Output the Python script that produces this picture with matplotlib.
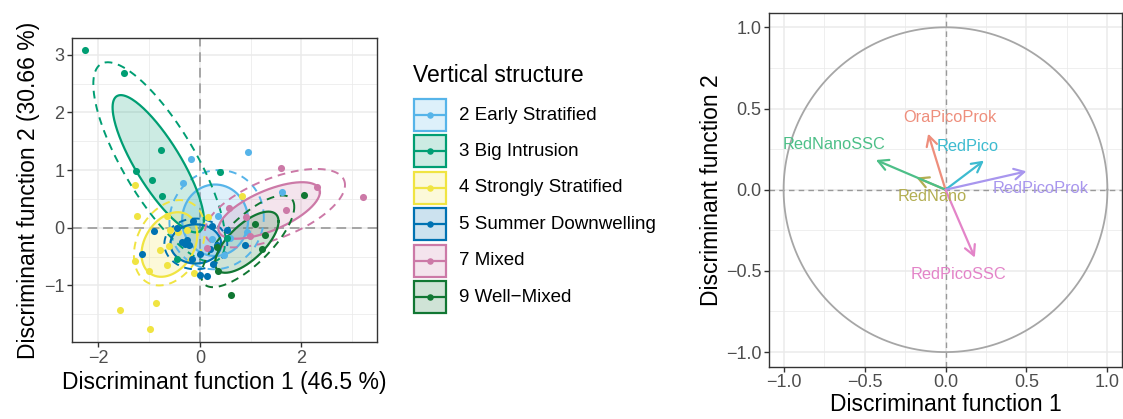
import numpy as np
import matplotlib
matplotlib.use("Agg")
import matplotlib.pyplot as plt
from matplotlib.patches import Rectangle
from matplotlib.lines import Line2D

plt.rcParams["font.family"] = ["Liberation Sans", "DejaVu Sans"]

# --- discriminant scores per vertical-structure group ---
groups = ["2 Early Stratified", "3 Big Intrusion", "4 Strongly Stratified",
          "5 Summer Downwelling", "7 Mixed", "9 Well\u2212Mixed"]
group_colors = ["#56B4E9", "#009E73", "#F0E442", "#0072B2", "#CC79A7", "#117733"]

early_x = [-0.17, 0.95, -0.33, 1.61, 0.36, 0.93, 0.23, 0.47, 0.59, 0.20]
early_y = [1.20, 1.31, 0.78, 0.62, 0.20, -0.07, -0.20, -0.47, -0.18, -0.36]

big_x = [-2.27, -1.50, -0.77, -1.26, -0.94, -0.74, 0.39, -0.46, 0.53]
big_y = [3.08, 2.69, 1.35, 0.98, 0.83, 0.545, 0.97, -0.54, -0.18]

strong_x = [-1.28, -1.24, -0.64, 0.16, 0.83, -0.59, -0.43, -0.26, -0.60,
            -0.79, -1.27, -0.64, -1.00, -0.11, -1.57, -0.87, -0.99]
strong_y = [0.74, 0.20, 0.20, 0.18, 0.55, -0.04, -0.07, -0.04, -0.31,
            -0.38, -0.57, -0.64, -0.75, -0.78, -1.42, -1.30, -1.75]

summer_x = [-0.90, -1.14, -0.13, 0.23, 0.53, 0.88, 0.01, -0.16, 0.00,
            0.15, 0.19, 0.26, -0.46, -0.30, -0.22, -0.26, 0.33, -0.36]
summer_y = [-0.05, -0.46, 0.12, 0.03, -0.04, -0.30, -0.46, -0.54, -0.82,
            -0.84, -0.36, -0.63, -0.01, -0.28, -0.30, -0.21, -0.29, -0.24]

mixed_x = [1.59, 2.30, 3.22, 1.69, 0.58, 0.90, 0.99, 0.15]
mixed_y = [1.04, 0.70, 0.53, 0.30, 0.34, 0.19, -0.15, -0.35]

well_x = [2.06, 1.09, 1.29, 1.22, 0.34, 0.35, 0.62]
well_y = [0.57, 0.06, -0.13, -0.36, -0.33, -0.75, -1.16]

scores_x = [early_x, big_x, strong_x, summer_x, mixed_x, well_x]
scores_y = [early_y, big_y, strong_y, summer_y, mixed_y, well_y]

# ellipse summaries per group: centre, sd along each axis, correlation
ell_cx = [0.30, -0.82, -0.60, -0.08, 1.365, 0.925]
ell_cy = [0.13, 1.11, -0.29, -0.28, 0.30, -0.25]
ell_sx = [0.65, 0.90, 0.55, 0.50, 1.00, 0.625]
ell_sy = [0.62, 1.19, 0.56, 0.34, 0.49, 0.53]
ell_r = [0.00, -0.82, 0.30, 0.00, 0.65, 0.68]

ell95_cx = [0.33, -0.80, -0.60, -0.08, 1.48, 0.945]
ell95_cy = [0.14, 1.14, -0.26, -0.28, 0.34, -0.235]
ell95_sx = [0.93, 1.30, 0.70, 0.62, 1.38, 0.915]
ell95_sy = [0.86, 1.73, 0.74, 0.44, 0.68, 0.795]
ell95_r = [0.05, -0.78, 0.29, 0.00, 0.59, 0.75]

# --- variable loadings (correlation circle) ---
variables = ["OraPicoProk", "RedNano", "RedNanoSSC", "RedPico", "RedPicoProk", "RedPicoSSC"]
var_colors = ["#EE8E7C", "#B3AE52", "#4DBF88", "#3DBBD0", "#A896EE", "#E384C8"]
load1 = [-0.107, -0.18, -0.43, 0.237, 0.50, 0.181]
load2 = [0.345, 0.075, 0.183, 0.179, 0.113, -0.418]
label_x = [0.027, -0.083, -0.69, 0.134, 0.59, 0.078]
label_y = [0.443, -0.04, 0.278, 0.267, 0.006, -0.525]

GRID = "#EBEBEB"
DARK = "#333333"
TICK = "#4D4D4D"


def ellipse_xy(cx, cy, sx, sy, r, n=200):
    t = np.linspace(0, 2 * np.pi, n)
    x = cx + sx * np.cos(t)
    y = cy + sy * (r * np.cos(t) + np.sqrt(1 - r ** 2) * np.sin(t))
    return x, y


def style_axes(ax, xmaj, xmin, ymaj, ymin):
    ax.set_xticks(xmaj)
    ax.set_xticks(xmin, minor=True)
    ax.set_yticks(ymaj)
    ax.set_yticks(ymin, minor=True)
    ax.grid(True, which="major", color=GRID, lw=1.1, zorder=0)
    ax.grid(True, which="minor", color=GRID, lw=0.55, zorder=0)
    ax.set_axisbelow(True)
    ax.tick_params(which="major", length=3.5, width=1.0, color=DARK,
                   labelcolor=TICK, labelsize=13, pad=2)
    ax.tick_params(which="minor", length=0)
    for sp in ax.spines.values():
        sp.set_color(DARK)
        sp.set_linewidth(1.0)


fig = plt.figure(figsize=(11.23, 4.19), dpi=100)

# --- Panel 1: scores with confidence ellipses ---
ax = fig.add_axes([0.0641, 0.1838, 0.2716, 0.7255])
ax.axhline(0, color="#A6A6A6", lw=1.4, ls=(0, (5, 3)), zorder=1)
ax.axvline(0, color="#A6A6A6", lw=1.4, ls=(0, (5, 3)), zorder=1)
for i, col in enumerate(group_colors):
    ex, ey = ellipse_xy(ell_cx[i], ell_cy[i], ell_sx[i], ell_sy[i], ell_r[i])
    ax.fill(ex, ey, color=col, alpha=0.2, lw=0, zorder=2)
    ax.plot(ex, ey, color=col, lw=1.6, zorder=3)
    dx, dy = ellipse_xy(ell95_cx[i], ell95_cy[i], ell95_sx[i], ell95_sy[i], ell95_r[i])
    ax.plot(dx, dy, color=col, lw=1.4, ls=(0, (4, 3)), zorder=3)
for i, col in enumerate(group_colors):
    ax.scatter(scores_x[i], scores_y[i], s=26, color=col, lw=0, zorder=4)
ax.set_xlim(-2.52, 3.49)
ax.set_ylim(-1.98, 3.29)
style_axes(ax, [-2, 0, 2], [-1, 1, 3], [-1, 0, 1, 2, 3], [-1.5, -0.5, 0.5, 1.5, 2.5])
ax.set_xlabel("Discriminant function 1 (46.5 %)", fontsize=16.5, labelpad=3)
ax.set_ylabel("Discriminant function 2 (30.66 %)", fontsize=16.5, labelpad=3)

# --- Legend drawn in pixel space ---
lg = fig.add_axes([0, 0, 1, 1])
lg.set_xlim(0, 1123)
lg.set_ylim(419, 0)
lg.axis("off")
lg.text(413, 76, "Vertical structure", fontsize=16.5, va="center", ha="left")
for i, (name, col) in enumerate(zip(groups, group_colors)):
    yc = 115 + i * 36.4
    lg.add_patch(Rectangle((414, yc - 16), 32, 32, facecolor=col, alpha=0.2, lw=0))
    lg.add_patch(Rectangle((414, yc - 16), 32, 32, facecolor="none", edgecolor=col, lw=1.6))
    lg.add_line(Line2D([416, 444], [yc, yc], color=col, lw=1.6))
    lg.scatter([430], [yc], s=22, color=col, lw=0, zorder=5)
    lg.text(459, yc, name, fontsize=13.5, va="center", ha="left")

# --- Panel 2: correlation circle ---
ax2 = fig.add_axes([0.6848, 0.1248, 0.3143, 0.8449])
t = np.linspace(0, 2 * np.pi, 400)
ax2.plot(np.cos(t), np.sin(t), color="#A6A6A6", lw=1.3, zorder=2)
ax2.axhline(0, color="#999999", lw=1.0, ls=(0, (4, 3)), zorder=1)
ax2.axvline(0, color="#999999", lw=1.0, ls=(0, (4, 3)), zorder=1)
for i, col in enumerate(var_colors):
    ax2.annotate("", xy=(load1[i], load2[i]), xytext=(0, 0),
                 arrowprops=dict(arrowstyle="->,head_length=0.6,head_width=0.32",
                                 mutation_scale=12, lw=1.6, color=col,
                                 shrinkA=0, shrinkB=0), zorder=3)
    ax2.text(label_x[i], label_y[i], variables[i], color=col, fontsize=11.8,
             ha="center", va="center", zorder=4)
ax2.set_xlim(-1.09, 1.09)
ax2.set_ylim(-1.09, 1.09)
style_axes(ax2, [-1, -0.5, 0, 0.5, 1], [-0.75, -0.25, 0.25, 0.75],
           [-1, -0.5, 0, 0.5, 1], [-0.75, -0.25, 0.25, 0.75])
ax2.xaxis.set_major_formatter(lambda v, p: f"{v:.1f}".replace("-", "\u2212"))
ax2.yaxis.set_major_formatter(lambda v, p: f"{v:.1f}".replace("-", "\u2212"))
ax2.set_xlabel("Discriminant function 1", fontsize=16.5, labelpad=1)
ax2.set_ylabel("Discriminant function 2", fontsize=16.5, labelpad=2)

fig.savefig("out.png", dpi=100)
